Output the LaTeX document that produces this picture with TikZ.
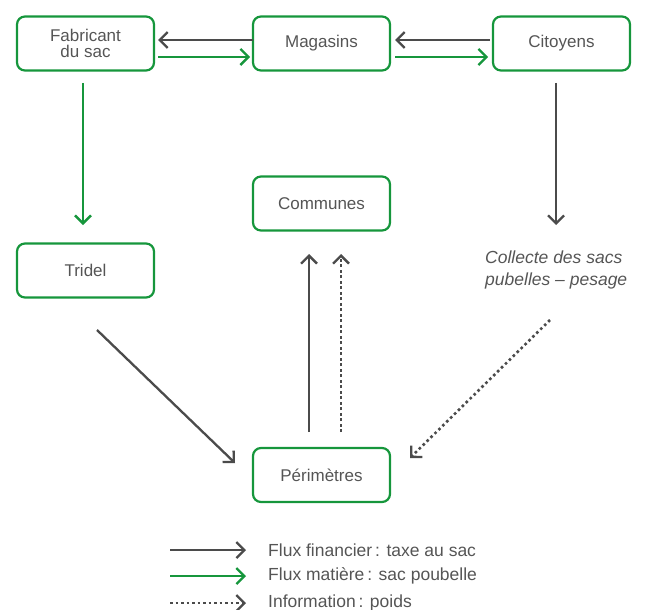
\documentclass[tikz,border=0pt]{standalone}
\usepackage{fontspec}
\setmainfont{Liberation Sans}
\usetikzlibrary{arrows.meta}
\definecolor{vgreen}{RGB}{22,150,60}
\definecolor{dgray}{RGB}{75,75,75}
\definecolor{tgray}{RGB}{85,85,85}
\begin{document}
\begin{tikzpicture}[x=1pt,y=-1pt,
  box/.style={draw=vgreen,line width=2.2pt,rounded corners=8pt,minimum width=137pt,minimum height=54pt,text=tgray,font=\fontsize{17}{16}\selectfont,align=center,inner sep=0pt},
  tip/.style={-{Straight Barb[length=8pt,width=16pt,line width=2.3pt]}},
  fin/.style={tip,draw=dgray,line width=2.3pt},
  mat/.style={tip,draw=vgreen,line width=2.3pt},
  inf/.style={tip,draw=dgray,line width=2.6pt,dash pattern=on 2.6pt off 2.9pt,line cap=butt},
  leg/.style={anchor=west,text=tgray,font=\fontsize{17.5}{18}\selectfont,inner sep=0pt}]
\useasboundingbox (0,0) rectangle (651,610);
\node[box] (fab) at (85.5,43.5) {Fabricant\\du sac};
\node[box] (mag) at (321.5,43.5) {Magasins};
\node[box] (cit) at (561.5,43.5) {Citoyens};
\node[box] (com) at (321.5,203.5) {Communes};
\node[box] (tri) at (85.5,270.5) {Tridel};
\node[box] (per) at (321.5,475) {Périmètres};
\node[text=tgray,font=\fontsize{17.5}{22}\selectfont\itshape,align=left,anchor=base west,inner sep=0pt] (col) at (485,285) {Collecte des sacs\\pubelles – pesage};
% top arrows
\coordinate (m1) at (253,40); \coordinate (f1) at (158,40);
\draw[fin] (m1) -- (f1);
\coordinate (f2) at (158,57); \coordinate (m2) at (250,57);
\draw[mat] (f2) -- (m2);
\coordinate (c1) at (490,40); \coordinate (m3) at (395,40);
\draw[fin] (c1) -- (m3);
\coordinate (m4) at (395,57); \coordinate (c2) at (488,57);
\draw[mat] (m4) -- (c2);
% verticals
\coordinate (fa) at (83,83); \coordinate (fb) at (83,225);
\draw[mat] (fa) -- (fb);
\coordinate (ca) at (556,83); \coordinate (cb) at (556,225);
\draw[fin] (ca) -- (cb);
% to perimetres
\coordinate (ta) at (97,330); \coordinate (tb) at (235,463);
\draw[fin] (ta) -- (tb);
\coordinate (da) at (550,320); \coordinate (db) at (410,458);
\draw[inf] (da) -- (db);
\coordinate (pa) at (309,432); \coordinate (pb) at (309,254);
\draw[fin] (pa) -- (pb);
\coordinate (qa) at (341,432); \coordinate (qb) at (341,254);
\draw[inf] (qa) -- (qb);
% legend
\coordinate (l1a) at (170,550); \coordinate (l1b) at (246,550);
\draw[fin] (l1a) -- (l1b);
\node[leg] (t1) at (268,550) {Flux financier\,: taxe au sac};
\coordinate (l2a) at (170,576); \coordinate (l2b) at (246,576);
\draw[mat] (l2a) -- (l2b);
\node[leg] (t2) at (268,576) {Flux matière\,: sac poubelle};
\coordinate (l3a) at (170,603); \coordinate (l3b) at (246,603);
\draw[inf] (l3a) -- (l3b);
\node[leg] (t3) at (268,603) {Information\,: poids};
\end{tikzpicture}
\end{document}
